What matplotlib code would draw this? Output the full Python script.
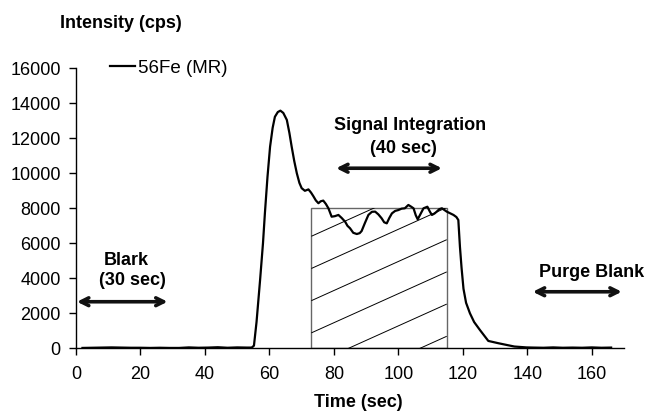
import numpy as np
import matplotlib
matplotlib.use("Agg")
import matplotlib.pyplot as plt
from matplotlib.patches import Rectangle
from matplotlib.collections import LineCollection

plt.rcParams['font.family'] = ['Liberation Sans', 'DejaVu Sans']

time = [2, 5, 8, 11, 14, 17, 20, 23, 26, 29, 32, 35, 38, 41, 44, 47, 50, 53, 54.5,
        55.2, 56, 57.1, 58, 58.6, 59.4, 60.2, 61, 61.7, 62.6, 63.4, 64.3, 65.4, 66.2,
        66.9, 67.7, 68.5, 69.3, 70, 71, 72.1, 72.9, 73.6, 74.4, 75.2, 75.9, 76.7, 77.5,
        78.3, 79.3, 80.3, 81.4, 82.4, 83.5, 84.2, 85, 86, 87.1, 88, 88.6, 89.6, 90.7,
        91.8, 92.8, 93.8, 94.8, 95.6, 96.4, 97.2, 98, 99, 100, 101, 102, 103.1, 103.9,
        104.7, 105.4, 106, 106.8, 107.8, 109, 109.8, 110.4, 111.2, 111.9, 112.7, 113.5,
        114.3, 115, 116, 117.1, 118, 118.6, 119.1, 119.6, 120.2, 121, 122.2, 123.5,
        125.3, 127.9, 131, 133.6, 136, 139.7, 142, 145, 148, 151, 154, 157, 160, 163, 166]
intensity = [20, 30, 40, 50, 40, 30, 30, 20, 30, 20, 20, 50, 30, 40, 60, 30, 50, 40, 40,
             150, 1500, 3900, 6000, 7730, 9800, 11520, 12600, 13230, 13500, 13580, 13450,
             13050, 12300, 11520, 10700, 10000, 9450, 9150, 9000, 9080, 8900, 8700, 8450,
             8290, 8400, 8440, 8250, 8000, 7520, 7550, 7620, 7450, 7230, 7000, 6860, 6600,
             6530, 6580, 6700, 7150, 7620, 7800, 7810, 7650, 7430, 7200, 7140, 7450, 7710,
             7850, 7900, 7980, 8000, 8190, 8100, 8000, 7600, 7370, 7650, 8000, 8090, 7800,
             7620, 7700, 7810, 7950, 8000, 7900, 7810, 7720, 7620, 7500, 7330, 5800, 4600,
             3400, 2600, 2000, 1500, 1045, 420, 290, 190, 100, 50, 40, 30, 50, 30, 40, 30,
             50, 30, 40]

integ_start, integ_end, integ_height = 73, 115, 8000
blank_arrow = (0.3, 28.4, 2660)
signal_arrow = (80.7, 113.5, 10290)
purge_arrow = (141.7, 169.3, 3230)

fig = plt.figure(figsize=(6.48, 4.11), dpi=100)
ax = fig.add_axes([0.1173, 0.1526, 0.8457, 0.6812])

# integration rectangle with sparse diagonal hatch lines
rect = Rectangle((integ_start, 0), integ_end - integ_start, integ_height,
                 facecolor='white', edgecolor='#666666', lw=1.0, zorder=1)
ax.add_patch(rect)
slope = 83.0   # data y per data x
spacing = 1840.0
offs = np.arange(-6 * spacing, 2 * spacing, spacing) + 6400
segs = []
for c in offs:
    xs = np.array([integ_start, integ_end])
    ys = c + slope * (xs - integ_start)
    segs.append(list(zip(xs, ys)))
lc = LineCollection(segs, colors='black', linewidths=0.7, zorder=1.5)
ax.add_collection(lc)
lc.set_clip_path(rect)

ax.plot(time, intensity, color='black', lw=1.6, zorder=3, label='56Fe (MR)')

ax.set_xlim(0, 170)
ax.set_ylim(0, 16000)
ax.set_xticks(np.arange(0, 161, 20))
ax.set_yticks(np.arange(0, 16001, 2000))
for s in ['top', 'right']:
    ax.spines[s].set_visible(False)
for s in ['left', 'bottom']:
    ax.spines[s].set_linewidth(1.0)
ax.tick_params(direction='out', length=5, width=1, labelsize=13)
ax.tick_params(axis='y', pad=6)
ax.tick_params(axis='x', pad=7.5)
ax.set_xlabel('Time (sec)', fontsize=13, fontweight='bold')
ax.xaxis.set_label_coords(0.515, -0.21)
ax.xaxis.label.set_va('baseline')

fig.text(0.1864, 0.932, 'Intensity (cps)', fontsize=13, fontweight='bold',
         ha='center', va='baseline')

leg = ax.legend(loc='center left', bbox_to_anchor=(0.062, 1.001), frameon=False,
                fontsize=13.5, handlelength=1.35, handletextpad=0.15,
                borderpad=0, borderaxespad=0)

arrow_kw = dict(arrowstyle='<->', lw=2.6, color='#111111', mutation_scale=14,
                shrinkA=0, shrinkB=0)
for (x0, x1, y) in [blank_arrow, signal_arrow, purge_arrow]:
    ax.annotate('', xy=(x0, y), xytext=(x1, y), arrowprops=arrow_kw, annotation_clip=False)

tk = dict(fontsize=13, fontweight='bold', ha='center', va='center')
ax.text(15.7, 5045, 'Blark', **tk)
ax.text(17.6, 3900, '(30 sec)', **tk)
ax.text(103.6, 12760, 'Signal Integration', **tk)
ax.text(101.5, 11430, '(40 sec)', **tk)
ax.text(160, 4320, 'Purge Blank', **tk)

fig.savefig('out.png', dpi=100)
